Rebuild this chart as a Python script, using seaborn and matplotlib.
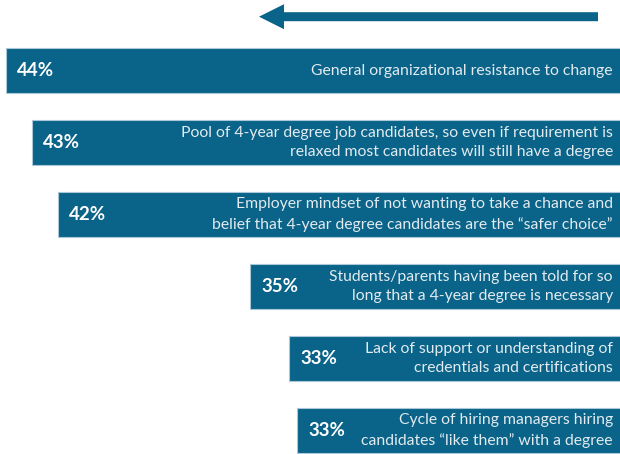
import matplotlib
matplotlib.use("Agg")
import matplotlib.pyplot as plt
import matplotlib.patches as mpatches
import matplotlib.transforms as mtransforms
import seaborn as sns
import pandas as pd

# Data
reasons = [
    "General organizational resistance to change",
    "Pool of 4-year degree job candidates, so even if requirement is\nrelaxed most candidates will still have a degree",
    "Employer mindset of not wanting to take a chance and\nbelief that 4-year degree candidates are the \u201csafer choice\u201d",
    "Students/parents having been told for so\nlong that a 4-year degree is necessary",
    "Lack of support or understanding of\ncredentials and certifications",
    "Cycle of hiring managers hiring\ncandidates \u201clike them\u201d with a degree",
]
shares = [44.0, 43.0, 42.0, 34.6, 33.1, 32.8]

df = pd.DataFrame({"reason": reasons, "share": shares})

bar_color = "#0a6388"
text_color = "#e2ebf0"

sns.set_style("white")
plt.rcParams["font.family"] = ["Lato", "DejaVu Sans"]

fig = plt.figure(figsize=(6.2, 4.54), dpi=100)
ax = fig.add_axes([0, 0, 1, 1])

sns.barplot(data=df, x="share", y="reason", orient="h", color=bar_color,
            width=0.626, edgecolor="#a9c9d8", linewidth=0.8, saturation=1, ax=ax)

# axis is truncated: bars grow leftwards from beyond the right edge
ax.set_xlim(44.23, 20.38)
ax.set_ylim(5.33, -0.98)
ax.axis("off")

for i, (r, v) in enumerate(zip(reasons, shares)):
    ax.annotate(f"{v:.0f}%", xy=(v, i), xytext=(8, 0), textcoords="offset points",
                ha="left", va="center", fontsize=13.5, fontweight="bold", color="white")
    ax.text(0.9887, i, r, transform=ax.get_yaxis_transform(), ha="right", va="center",
            multialignment="right", fontsize=11.35, color=text_color, linespacing=1.5)

# arrow on top pointing left
arrow = mpatches.FancyArrow(598, 454 - 16.7, -339, 0, width=9, head_width=25,
                            head_length=25, length_includes_head=True,
                            transform=mtransforms.IdentityTransform(),
                            color=bar_color, linewidth=0)
fig.add_artist(arrow)

fig.savefig("out.png", dpi=100)
